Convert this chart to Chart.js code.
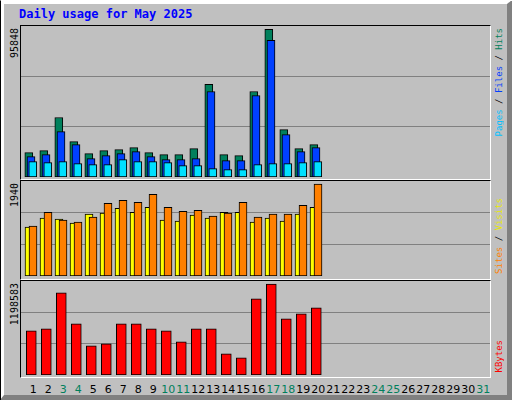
<!DOCTYPE html>
<html><head><meta charset="utf-8">
<script src="https://cdn.jsdelivr.net/npm/chart.js@4"></script>
<style>
html,body{margin:0;padding:0;background:#c0c0c0;}
#wrap{position:relative;width:512px;height:400px;background:#c0c0c0;box-sizing:border-box;overflow:hidden;}
#bevel{position:absolute;left:0;top:0;width:512px;height:400px;box-sizing:border-box;border-top:4px solid #fff;border-left:4px solid #fff;border-right:5px solid #808080;border-bottom:5px solid #808080;}
#edge{position:absolute;left:0;top:0;width:512px;height:400px;box-sizing:border-box;border-left:1px solid #000;border-top:1px solid #fff;}
.frame{position:absolute;box-sizing:border-box;border-top:1px solid #000;border-left:1px solid #000;border-right:1px solid #fff;border-bottom:1px solid #fff;}
canvas{position:absolute;}
.title{position:absolute;left:19px;top:7px;font:bold 12px "DejaVu Sans Mono",monospace;color:#0000ff;}
.vl{position:absolute;display:inline-block;writing-mode:vertical-rl;transform:rotate(180deg);font:10px "DejaVu Sans Mono",monospace;white-space:nowrap;line-height:12px;}
.vr{position:absolute;display:inline-block;writing-mode:vertical-rl;transform:rotate(180deg);font:9px "DejaVu Sans Mono",monospace;white-space:nowrap;line-height:11px;}
.xl{position:absolute;top:383px;width:16px;text-align:center;font:11px "DejaVu Sans",sans-serif;}
</style></head><body>
<div id="wrap">
<div id="bevel"></div><div id="edge"></div>
<div class="title">Daily usage for May 2025</div>
<div class="frame" style="left:20px;top:25px;width:471px;height:155px"></div>
<div class="frame" style="left:20px;top:180px;width:471px;height:100px"></div>
<div class="frame" style="left:20px;top:280px;width:471px;height:98px"></div>
<canvas id="c1" width="469" height="151" style="left:21px;top:26px"></canvas>
<canvas id="c2" width="469" height="95" style="left:21px;top:181px"></canvas>
<canvas id="c3" width="469" height="94" style="left:21px;top:281px"></canvas>
<div class="vl" style="left:9px;top:28px">95848</div>
<div class="vl" style="left:9px;top:183px">1940</div>
<div class="vl" style="left:9px;top:283px">1198583</div>
<div class="vr" style="left:494px;top:28px"><span style="color:#00c0ff">Pages</span> / <span style="color:#0040ff">Files</span> / <span style="color:#00805c">Hits</span></div>
<div class="vr" style="left:494px;top:198px"><span style="color:#ff8000">Sites</span> / <span style="color:#e8e800">Visits</span></div>
<div class="vr" style="left:494px;top:340px"><span style="color:#ff0000">KBytes</span></div>
<div id="xlabels"></div>
</div>
<script>
const days = Array.from({length:31},(_,i)=>i+1);
const weekend = [3,4,10,11,17,18,24,25,31];
const hits  = [15830,17131,38600,22986,15180,17131,17782,19083,15830,14529,14529,18432,60067,14529,13878,55513,95848,30793,18432,21034];
const files = [13228,14529,29492,21034,11927,13878,15180,16481,13228,11276,11276,11927,55513,10626,10626,52911,88692,27540,16481,19083];
const pages = [9975,9325,9975,8674,8023,8023,11276,9975,9975,9325,7373,7373,5421,4771,4771,8023,8674,8674,9325,9975];
const visits= [1030,1219,1198,1114,1303,1324,1429,1345,1450,1177,1156,1282,1219,1345,1345,1135,1219,1156,1303,1450];
const sites = [1051,1345,1177,1135,1240,1534,1597,1555,1723,1450,1366,1387,1261,1324,1555,1240,1303,1303,1492,1940];
const kbytes= [581795,608042,1080477,673658,384947,411194,673658,673658,608042,581795,437440,608042,608042,279962,227469,1001738,1198583,739274,804890,883629];
const yMax = [98000, 2003, 1237900];

const xl = document.getElementById('xlabels');
days.forEach(d=>{const e=document.createElement('div');e.className='xl';e.textContent=d;
  e.style.left=(18.3+15*d-8)+'px';e.style.color=weekend.includes(d)?'#00805c':'#000';xl.appendChild(e);});

const PX = 1/15;
function ds(vals,color,offPx,w){return {data:vals.map((v,i)=>({x:i+1+offPx*PX,y:v})),backgroundColor:color,borderColor:'#000',borderWidth:1,borderSkipped:false,barThickness:w,grouped:false};}
function opts(max){return {responsive:false,animation:false,events:[],
  layout:{padding:0},
  plugins:{legend:{display:false},tooltip:{enabled:false}},
  scales:{x:{type:'linear',display:false,min:(21-18.3)/15,max:(490-18.3)/15,offset:false},
    y:{min:0,max:max,display:true,border:{display:false},ticks:{display:false},
      afterBuildTicks:s=>{s.ticks=[{value:max/3},{value:2*max/3}];},
      afterFit:s=>{s.width=0;},
      grid:{color:'#808080',lineWidth:1,drawTicks:false}}}};}
new Chart('c1',{type:'bar',data:{datasets:[ds(pages,'#00e0ff',-0.5,8),ds(files,'#0040ff',-2.3,8),ds(hits,'#00805c',-4.5,8)]},options:opts(yMax[0])});
new Chart('c2',{type:'bar',data:{datasets:[ds(sites,'#ff8000',-0.3,8),ds(visits,'#ffff00',-4.3,8)]},options:opts(yMax[1])});
new Chart('c3',{type:'bar',data:{datasets:[ds(kbytes,'#ff0000',-2,10)]},options:opts(yMax[2])});
</script>
</body></html>
